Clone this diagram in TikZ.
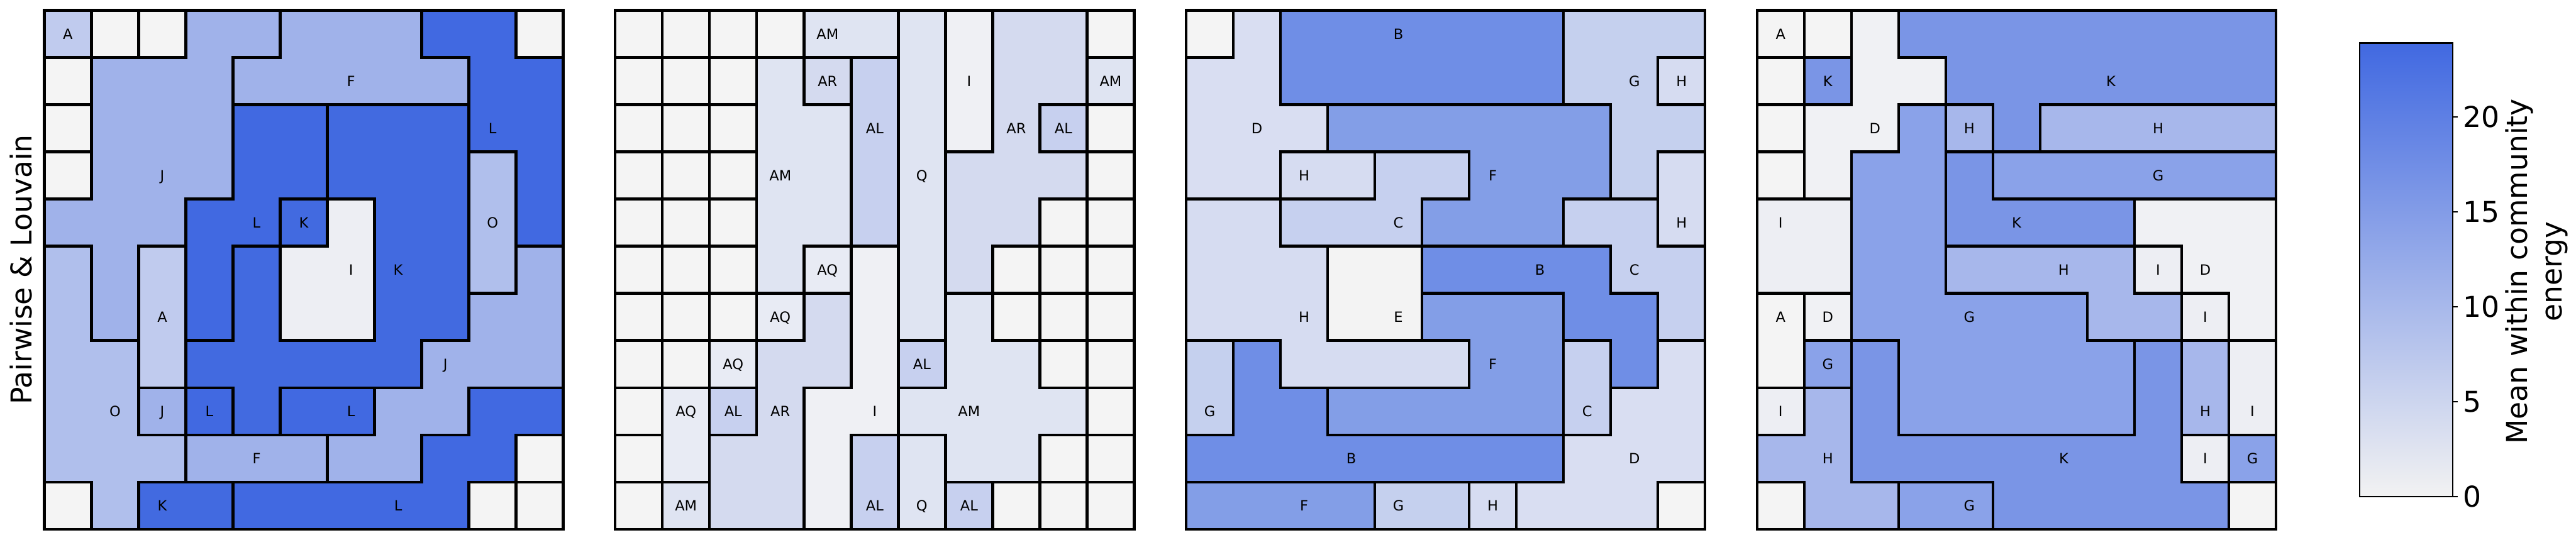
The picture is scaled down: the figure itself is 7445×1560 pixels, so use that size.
\documentclass[tikz,border=0pt]{standalone}
\usepackage{fontspec}
\setmainfont{DejaVu Sans}
\newif\ifbord
\def\gx{x}
\newcommand\setrow[3]{\foreach \vv [count=\kk from 0] in {#3}{\expandafter\xdef\csname cm-#1-#2-\kk\endcsname{\vv}}}
% panel 0
\definecolor{c0x}{HTML}{F4F4F4}
\definecolor{c0A}{HTML}{C0CBEE}
\definecolor{c0J}{HTML}{A0B2EA}
\definecolor{c0F}{HTML}{A0B2EA}
\definecolor{c0L}{HTML}{4169E1}
\definecolor{c0K}{HTML}{426AE0}
\definecolor{c0I}{HTML}{EDEEF3}
\definecolor{c0O}{HTML}{B0BFEC}
% panel 1
\definecolor{c1x}{HTML}{F4F4F4}
\definecolor{c1AM}{HTML}{DFE4F2}
\definecolor{c1AR}{HTML}{D4DAEF}
\definecolor{c1AL}{HTML}{C7D0EF}
\definecolor{c1Q}{HTML}{DFE4F2}
\definecolor{c1I}{HTML}{EFF0F4}
\definecolor{c1AQ}{HTML}{E8EBF4}
% panel 2
\definecolor{c2x}{HTML}{F4F4F4}
\definecolor{c2B}{HTML}{6F8EE6}
\definecolor{c2D}{HTML}{D9DEF2}
\definecolor{c2G}{HTML}{C5D0EE}
\definecolor{c2H}{HTML}{D6DCF1}
\definecolor{c2F}{HTML}{839EE7}
\definecolor{c2C}{HTML}{C6D0EF}
\definecolor{c2E}{HTML}{F3F3F3}
% panel 3
\definecolor{c3x}{HTML}{F4F4F4}
\definecolor{c3A}{HTML}{F4F4F4}
\definecolor{c3K}{HTML}{7A95E6}
\definecolor{c3H}{HTML}{A7B7EB}
\definecolor{c3G}{HTML}{8AA2E9}
\definecolor{c3D}{HTML}{F0F1F4}
\definecolor{c3I}{HTML}{EDEEF3}
% colorbar
\definecolor{cblow}{HTML}{F2F2F2}
\definecolor{cbhigh}{HTML}{4169E1}
\begin{document}
\begin{tikzpicture}[x=0.1pt,y=-0.1pt,
  cbord/.style={line width=0.8pt, line cap=rect},
  lab/.style={font=\fontsize{4.1}{5}\selectfont, inner sep=0pt, anchor=base},
  big/.style={font=\fontsize{8.3}{10}\selectfont, inner sep=0pt},
  thin/.style={line width=0.4pt}]
\useasboundingbox (0,0) rectangle (7445,1560);
% ---------- panel 0
\setrow{0}{0}{A,x,x,J,J,F,F,F,L,L,x}
\setrow{0}{1}{x,J,J,J,F,F,F,F,F,L,L}
\setrow{0}{2}{x,J,J,J,L,L,K,K,K,L,L}
\setrow{0}{3}{x,J,J,J,L,L,K,K,K,O,L}
\setrow{0}{4}{J,J,J,L,L,K,I,K,K,O,L}
\setrow{0}{5}{O,J,A,L,K,I,I,K,K,O,J}
\setrow{0}{6}{O,J,A,L,K,I,I,K,K,J,J}
\setrow{0}{7}{O,O,A,K,K,K,K,K,J,J,J}
\setrow{0}{8}{O,O,J,L,K,L,L,J,J,L,L}
\setrow{0}{9}{O,O,O,F,F,F,J,J,L,L,x}
\setrow{0}{10}{x,O,K,K,L,L,L,L,L,x,x}
% ---------- panel 1
\setrow{1}{0}{x,x,x,x,AM,AM,Q,I,AR,AR,x}
\setrow{1}{1}{x,x,x,AM,AR,AL,Q,I,AR,AR,AM}
\setrow{1}{2}{x,x,x,AM,AM,AL,Q,I,AR,AL,x}
\setrow{1}{3}{x,x,x,AM,AM,AL,Q,AR,AR,AR,x}
\setrow{1}{4}{x,x,x,AM,AM,AL,Q,AR,AR,x,x}
\setrow{1}{5}{x,x,x,AM,AQ,I,Q,AR,x,x,x}
\setrow{1}{6}{x,x,x,AQ,AR,I,Q,AM,x,x,x}
\setrow{1}{7}{x,x,AQ,AR,AR,I,AL,AM,AM,x,x}
\setrow{1}{8}{x,AQ,AL,AR,I,I,AM,AM,AM,AM,x}
\setrow{1}{9}{x,AQ,AR,AR,I,AL,Q,AM,AM,x,x}
\setrow{1}{10}{x,AM,AR,AR,I,AL,Q,AL,x,x,x}
% ---------- panel 2
\setrow{2}{0}{x,D,B,B,B,B,B,B,G,G,G}
\setrow{2}{1}{D,D,B,B,B,B,B,B,G,G,H}
\setrow{2}{2}{D,D,D,F,F,F,F,F,F,G,G}
\setrow{2}{3}{D,D,H,H,C,C,F,F,F,G,H}
\setrow{2}{4}{H,H,C,C,C,F,F,F,C,C,H}
\setrow{2}{5}{H,H,H,E,E,B,B,B,B,C,C}
\setrow{2}{6}{H,H,H,E,E,F,F,F,B,B,C}
\setrow{2}{7}{G,B,H,H,H,H,F,F,C,B,D}
\setrow{2}{8}{G,B,B,F,F,F,F,F,C,D,D}
\setrow{2}{9}{B,B,B,B,B,B,B,B,D,D,D}
\setrow{2}{10}{F,F,F,F,G,G,H,D,D,D,x}
% ---------- panel 3
\setrow{3}{0}{A,x,D,K,K,K,K,K,K,K,K}
\setrow{3}{1}{x,K,D,D,K,K,K,K,K,K,K}
\setrow{3}{2}{x,D,D,G,H,K,H,H,H,H,H}
\setrow{3}{3}{x,D,G,G,K,G,G,G,G,G,G}
\setrow{3}{4}{I,I,G,G,K,K,K,K,D,D,D}
\setrow{3}{5}{I,I,G,G,H,H,H,H,I,D,D}
\setrow{3}{6}{A,D,G,G,G,G,G,H,H,I,D}
\setrow{3}{7}{A,G,K,G,G,G,G,G,K,H,I}
\setrow{3}{8}{I,H,K,G,G,G,G,G,K,H,I}
\setrow{3}{9}{H,H,K,K,K,K,K,K,K,I,G}
\setrow{3}{10}{x,H,H,G,G,K,K,K,K,K,x}
% ---------- cell fills
\foreach \pnl in {0,1,2,3}{
  \pgfmathsetmacro\xo{128+1650*\pnl}
  \foreach \rw in {0,...,10}{
    \foreach \cl in {0,...,10}{
      \edef\cur{\csname cm-\pnl-\rw-\cl\endcsname}
      \edef\fc{c\pnl\cur}
      \fill[fill=\fc, draw=\fc, line width=0.1pt] ({\xo+\cl*136.3636},{30+\rw*136.3636}) rectangle ++(136.3636,136.3636);
    }}}
% ---------- community borders
\foreach \pnl in {0,1,2,3}{
  \pgfmathsetmacro\xo{128+1650*\pnl}
  \foreach \rw in {0,...,10}{
    \foreach \cl in {0,...,10}{
      \pgfmathtruncatemacro\cn{\cl+1}
      \pgfmathtruncatemacro\rn{\rw+1}
      \edef\cur{\csname cm-\pnl-\rw-\cl\endcsname}
      \ifnum\cl<10\relax
        \edef\nb{\csname cm-\pnl-\rw-\cn\endcsname}
        \bordfalse
        \ifx\cur\nb\else\bordtrue\fi
        \ifx\cur\gx\bordtrue\fi
        \ifx\nb\gx\bordtrue\fi
        \ifbord
          \draw[cbord] ({\xo+\cn*136.3636},{30+\rw*136.3636}) -- ++(0,136.3636);
        \fi
      \fi
      \ifnum\rw<10\relax
        \edef\nb{\csname cm-\pnl-\rn-\cl\endcsname}
        \bordfalse
        \ifx\cur\nb\else\bordtrue\fi
        \ifx\cur\gx\bordtrue\fi
        \ifx\nb\gx\bordtrue\fi
        \ifbord
          \draw[cbord] ({\xo+\cl*136.3636},{30+\rn*136.3636}) -- ++(136.3636,0);
        \fi
      \fi
    }}
  \draw[cbord] (\xo,30) rectangle ++(1500,1500);
}
% ---------- community labels
\foreach \pnl/\cl/\rw/\lbl in {
  0/0/0/A, 0/6/1/F, 0/9/2/L, 0/2/3/J, 0/4/4/L, 0/5/4/K, 0/9/4/O, 0/6/5/I, 0/7/5/K,
  0/2/6/A, 0/8/7/J, 0/1/8/O, 0/2/8/J, 0/3/8/L, 0/6/8/L, 0/4/9/F, 0/2/10/K, 0/7/10/L,
  1/4/0/AM, 1/4/1/AR, 1/7/1/I, 1/10/1/AM, 1/5/2/AL, 1/8/2/AR, 1/9/2/AL, 1/3/3/AM,
  1/6/3/Q, 1/4/5/AQ, 1/3/6/AQ, 1/2/7/AQ, 1/6/7/AL, 1/1/8/AQ, 1/2/8/AL, 1/3/8/AR,
  1/5/8/I, 1/7/8/AM, 1/1/10/AM, 1/5/10/AL, 1/6/10/Q, 1/7/10/AL,
  2/4/0/B, 2/9/1/G, 2/10/1/H, 2/1/2/D, 2/2/3/H, 2/6/3/F, 2/4/4/C, 2/10/4/H,
  2/7/5/B, 2/9/5/C, 2/2/6/H, 2/4/6/E, 2/6/7/F, 2/0/8/G, 2/8/8/C, 2/3/9/B,
  2/9/9/D, 2/2/10/F, 2/4/10/G, 2/6/10/H,
  3/0/0/A, 3/1/1/K, 3/7/1/K, 3/2/2/D, 3/4/2/H, 3/8/2/H, 3/8/3/G, 3/0/4/I,
  3/5/4/K, 3/6/5/H, 3/8/5/I, 3/9/5/D, 3/0/6/A, 3/1/6/D, 3/4/6/G, 3/9/6/I,
  3/1/7/G, 3/0/8/I, 3/9/8/H, 3/10/8/I, 3/1/9/H, 3/6/9/K, 3/9/9/I, 3/10/9/G,
  3/4/10/G}{
  \node[lab] (t\pnl-\cl-\rw) at ({128+1650*\pnl+(\cl+0.5)*136.3636},{30+(\rw+0.5)*136.3636+15}) {\lbl};
}
% ---------- row label
\node[big, rotate=90, anchor=base] (ylab) at (92,780) {Pairwise \& Louvain};
% ---------- colorbar
\shade[bottom color=cblow, top color=cbhigh] (6820,124.5) rectangle (7089,1436);
\draw[thin] (6820,124.5) rectangle (7089,1436);
\foreach \v/\ty in {0/1436, 5/1161.5, 10/887, 15/612.5, 20/338}{
  \draw[thin] (7089,\ty) -- (7104,\ty);
  \node[big, anchor=base west] (tick\v) at (7116,\ty+30) {\v};
}
\node[big, rotate=90, align=center] (cblab) at (7331,785) {Mean within community\\energy};
\end{tikzpicture}
\end{document}
